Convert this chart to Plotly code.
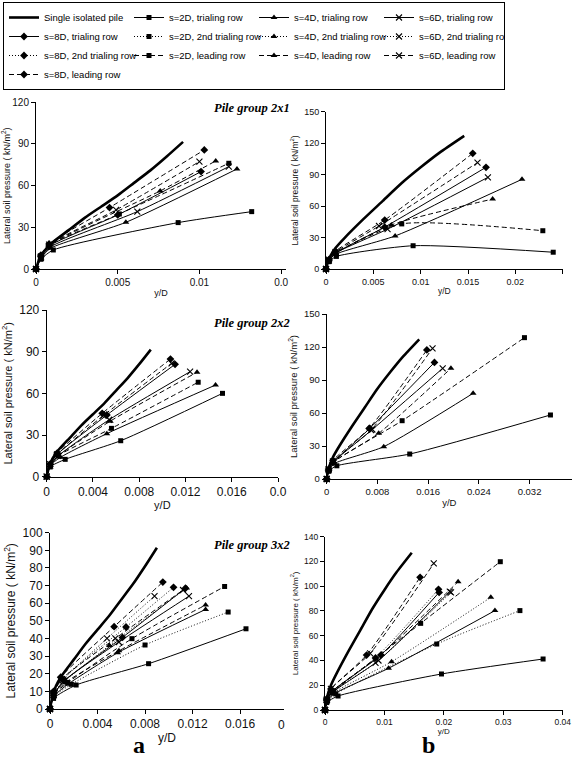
import plotly.graph_objects as go

W, H = 572, 763

# ---------------- data ----------------
SINGLE_A_X = [0, 0.0002, 0.0005, 0.001, 0.002, 0.003, 0.004, 0.005, 0.006, 0.007, 0.008, 0.009]
SINGLE_A_Y = [0, 7, 13, 19, 28, 37, 45, 53, 62, 71, 81, 91.5]
SINGLE_B_X = [0, 0.0002, 0.0005, 0.001, 0.002, 0.004, 0.006, 0.008, 0.010, 0.012, 0.0146]
SINGLE_B_Y = [0, 7, 13, 20, 30, 48, 65, 82, 97, 111, 127]

# Pile group 2x1, column a
A1_2D_T = ([0, 0.0003, 0.00106, 0.0087, 0.0132], [0, 7, 13.7, 33.4, 41.3])
A1_4D_T = ([0, 0.0003, 0.0009, 0.0055, 0.0123], [0, 8, 15, 33.6, 72])
A1_6D_T = ([0, 0.0003, 0.0009, 0.0062, 0.0118], [0, 8, 16, 41.3, 73.7])
A1_8D_T = ([0, 0.0003, 0.0008, 0.0050, 0.0101], [0, 9, 16.5, 38.9, 70.1])
A1_2D_L = ([0, 0.0003, 0.0008, 0.0051, 0.0118], [0, 9, 17, 39.6, 76.1])
A1_4D_L = ([0, 0.0003, 0.0008, 0.0076, 0.0110], [0, 9, 17, 56.2, 77.8])
A1_6D_L = ([0, 0.0003, 0.0008, 0.0049, 0.0100], [0, 9, 17.5, 42.5, 77.3])
A1_8D_L = ([0, 0.0003, 0.0008, 0.0045, 0.0103], [0, 10, 18, 44.2, 85.7])

# Pile group 2x1, column b
B1_2D_T = ([0, 0.0003, 0.0011, 0.0092, 0.0240], [0, 7, 12, 22.2, 16])
B1_4D_T = ([0, 0.0003, 0.0010, 0.0073, 0.0207], [0, 8, 14, 31.5, 85.5])
B1_6D_T = ([0, 0.0003, 0.0010, 0.0065, 0.0171], [0, 8, 15, 38, 87.4])
B1_8D_T = ([0, 0.0003, 0.0010, 0.0062, 0.0169], [0, 8, 15, 40, 97])
B1_2D_L = ([0, 0.0003, 0.0010, 0.0080, 0.0229], [0, 8, 15, 43, 36.5])
B1_4D_L = ([0, 0.0003, 0.0010, 0.0069, 0.0176], [0, 8, 15, 42, 66.7])
B1_6D_L = ([0, 0.0003, 0.0010, 0.0056, 0.0160], [0, 9, 16, 41, 101.4])
B1_8D_L = ([0, 0.0003, 0.0010, 0.0062, 0.0155], [0, 9, 17, 46.7, 110.3])

# Pile group 2x2, column a
A2_2D_T = ([0, 0.0003, 0.0016, 0.0064, 0.0152], [0, 7, 12.5, 25.9, 60])
A2_4D_T = ([0, 0.0003, 0.0012, 0.0052, 0.0146], [0, 8, 14, 31, 66])
A2_6D_T = ([0, 0.0003, 0.0010, 0.0054, 0.0124], [0, 8, 15, 41, 75.6])
A2_8D_T = ([0, 0.0003, 0.0009, 0.0052, 0.0111], [0, 9, 16, 44.4, 80.9])
A2_2D_L = ([0, 0.0003, 0.0010, 0.0056, 0.0131], [0, 8, 15, 34.8, 68])
A2_4D_L = ([0, 0.0003, 0.0010, 0.0055, 0.0130], [0, 8, 15, 40, 75.2])
A2_6D_L = ([0, 0.0003, 0.0009, 0.0049, 0.0108], [0, 9, 16, 44, 81.6])
A2_8D_L = ([0, 0.0003, 0.0009, 0.0048, 0.0107], [0, 9, 17, 45.6, 84.7])

# Pile group 2x2, column b
B2_2D_T = ([0, 0.0003, 0.0016, 0.0131, 0.0353], [0, 7, 12, 22.7, 58.2])
B2_4D_T = ([0, 0.0003, 0.0012, 0.0090, 0.0231], [0, 8, 14, 29.4, 77.9])
B2_6D_T = ([0, 0.0003, 0.0010, 0.0072, 0.0183], [0, 8, 15, 45, 100.6])
B2_8D_T = ([0, 0.0003, 0.0010, 0.0068, 0.0170], [0, 8, 15, 46, 106])
B2_2D_L = ([0, 0.0003, 0.0010, 0.0119, 0.0312], [0, 8, 15, 53, 128.5])
B2_4D_L = ([0, 0.0003, 0.0010, 0.0082, 0.0196], [0, 8, 15, 41.5, 100.6])
B2_6D_L = ([0, 0.0003, 0.0010, 0.0070, 0.0167], [0, 9, 16, 44.5, 118.8])
B2_8D_L = ([0, 0.0003, 0.0010, 0.0067, 0.0158], [0, 9, 17, 46, 117.3])

# Pile group 3x2, column a
A3_2D_T = ([0, 0.0003, 0.0022, 0.0083, 0.0165], [0, 6, 13.6, 25.7, 45.5])
A3_4D_T = ([0, 0.0003, 0.0015, 0.0057, 0.0131], [0, 7, 14, 31.9, 56.5])
A3_6D_T = ([0, 0.0003, 0.0012, 0.0058, 0.0117], [0, 8, 16, 38, 64])
A3_8D_T = ([0, 0.0003, 0.0012, 0.0061, 0.0114], [0, 8, 16, 40.6, 68.5])
A3_2D_2 = ([0, 0.0003, 0.0018, 0.0080, 0.0150], [0, 7, 14, 36.3, 55])
A3_4D_2 = ([0, 0.0003, 0.0013, 0.0050, 0.0115], [0, 8, 16, 36, 68.6])
A3_6D_2 = ([0, 0.0003, 0.0011, 0.0048, 0.0088], [0, 8, 16.5, 40, 64])
A3_8D_2 = ([0, 0.0003, 0.0010, 0.0064, 0.0104], [0, 9, 17, 46.5, 69])
A3_2D_L = ([0, 0.0003, 0.0015, 0.0069, 0.0147], [0, 8, 15, 39.9, 69.5])
A3_4D_L = ([0, 0.0003, 0.0013, 0.0058, 0.0131], [0, 8, 15, 33, 59])
A3_6D_L = ([0, 0.0003, 0.0010, 0.0055, 0.0112], [0, 9, 17, 40, 67.5])
A3_8D_L = ([0, 0.0003, 0.0009, 0.0054, 0.0095], [0, 10, 18, 46.7, 72])

# Pile group 3x2, column b
B3_2D_T = ([0, 0.0003, 0.0022, 0.0196, 0.0367], [0, 6, 11.3, 29.1, 41.2])
B3_4D_T = ([0, 0.0003, 0.0015, 0.0107, 0.0286], [0, 7, 13, 33.7, 80.3])
B3_6D_T = ([0, 0.0003, 0.0012, 0.0090, 0.0210], [0, 8, 14, 40, 95.6])
B3_8D_T = ([0, 0.0003, 0.0012, 0.0094, 0.0192], [0, 8, 15, 44.4, 95])
B3_2D_2 = ([0, 0.0003, 0.0018, 0.0188, 0.0328], [0, 7, 13, 53.3, 80.3])
B3_4D_2 = ([0, 0.0003, 0.0015, 0.0112, 0.0279], [0, 7, 14, 39, 91])
B3_6D_2 = ([0, 0.0003, 0.0012, 0.0085, 0.0212], [0, 8, 15, 38, 95])
B3_8D_2 = ([0, 0.0003, 0.0012, 0.0085, 0.0191], [0, 8, 15, 42, 97.5])
B3_2D_L = ([0, 0.0003, 0.0015, 0.0161, 0.0295], [0, 8, 15, 70, 119.8])
B3_4D_L = ([0, 0.0003, 0.0012, 0.0095, 0.0224], [0, 8, 15, 45, 103.6])
B3_6D_L = ([0, 0.0003, 0.0010, 0.0076, 0.0183], [0, 9, 17, 45.8, 118.4])
B3_8D_L = ([0, 0.0003, 0.0010, 0.0070, 0.0160], [0, 9, 17, 44.4, 107.2])

SPACINGS = ["2D", "4D", "6D", "8D"]
ROWS = ["T", "2", "L"]
ROW_NAMES = {"T": "trialing row", "2": "2nd trialing row", "L": "leading row"}
PANEL_TITLES = ["Pile group 2x1", "Pile group 2x2", "Pile group 3x2"]

# ---------------- styles ----------------
MARKERS = {"2D": ("square", 5), "4D": ("triangle-up", 6), "6D": ("x-thin", 6), "8D": ("diamond", 6)}
DASHES = {"T": "solid", "2": "1px,2px", "L": "5px,3px"}
FONT = "Arial, Liberation Sans, sans-serif"
SERIF = "Times New Roman, Liberation Serif, serif"


def pairs(*items):
    return dict(items)


panels = [
    dict(series=pairs(("2D_T", A1_2D_T), ("4D_T", A1_4D_T), ("6D_T", A1_6D_T), ("8D_T", A1_8D_T),
                      ("2D_L", A1_2D_L), ("4D_L", A1_4D_L), ("6D_L", A1_6D_L), ("8D_L", A1_8D_L)),
         single=(SINGLE_A_X, SINGLE_A_Y), xd=(36, 286), yd=(102.3, 269), xr=[0, 0.0153], yr=[0, 120],
         xt=[0, 0.005, 0.01, 0.015], xtt=["0", "0.005", "0.01", "0.0"], ydt=30, tf=10, ttf=9),
    dict(series=pairs(("2D_T", B1_2D_T), ("4D_T", B1_4D_T), ("6D_T", B1_6D_T), ("8D_T", B1_8D_T),
                      ("2D_L", B1_2D_L), ("4D_L", B1_4D_L), ("6D_L", B1_6D_L), ("8D_L", B1_8D_L)),
         single=(SINGLE_B_X, SINGLE_B_Y), xd=(326, 562.7), yd=(111.7, 269), xr=[0, 0.025], yr=[0, 150],
         xt=[0, 0.005, 0.01, 0.015, 0.02, 0.025], xtt=["0", "0.005", "0.01", "0.015", "0.02", "0.025"],
         ydt=30, tf=9, ttf=8.5),
    dict(series=pairs(("2D_T", A2_2D_T), ("4D_T", A2_4D_T), ("6D_T", A2_6D_T), ("8D_T", A2_8D_T),
                      ("2D_L", A2_2D_L), ("4D_L", A2_4D_L), ("6D_L", A2_6D_L), ("8D_L", A2_8D_L)),
         single=(SINGLE_A_X, SINGLE_A_Y), xd=(46.7, 278), yd=(310, 476.7), xr=[0, 0.02], yr=[0, 120],
         xt=[0, 0.004, 0.008, 0.012, 0.016, 0.02], xtt=["0", "0.004", "0.008", "0.012", "0.016", "0.0"],
         ydt=30, tf=12, ttf=11),
    dict(series=pairs(("2D_T", B2_2D_T), ("4D_T", B2_4D_T), ("6D_T", B2_6D_T), ("8D_T", B2_8D_T),
                      ("2D_L", B2_2D_L), ("4D_L", B2_4D_L), ("6D_L", B2_6D_L), ("8D_L", B2_8D_L)),
         single=(SINGLE_B_X, SINGLE_B_Y), xd=(326.7, 572), yd=(314, 479), xr=[0, 0.0387], yr=[0, 150],
         xt=[0, 0.008, 0.016, 0.024, 0.032], xtt=["0", "0.008", "0.016", "0.024", "0.032"],
         ydt=30, tf=9.5, ttf=9.5),
    dict(series=pairs(("2D_T", A3_2D_T), ("4D_T", A3_4D_T), ("6D_T", A3_6D_T), ("8D_T", A3_8D_T),
                      ("2D_2", A3_2D_2), ("4D_2", A3_4D_2), ("6D_2", A3_6D_2), ("8D_2", A3_8D_2),
                      ("2D_L", A3_2D_L), ("4D_L", A3_4D_L), ("6D_L", A3_6D_L), ("8D_L", A3_8D_L)),
         single=(SINGLE_A_X, SINGLE_A_Y), xd=(50, 284), yd=(532.7, 709), xr=[0, 0.0197], yr=[0, 100],
         xt=[0, 0.004, 0.008, 0.012, 0.016], xtt=["0", "0.004", "0.008", "0.012", "0.016"],
         ydt=10, tf=12, ttf=12),
    dict(series=pairs(("2D_T", B3_2D_T), ("4D_T", B3_4D_T), ("6D_T", B3_6D_T), ("8D_T", B3_8D_T),
                      ("2D_2", B3_2D_2), ("4D_2", B3_4D_2), ("6D_2", B3_6D_2), ("8D_2", B3_8D_2),
                      ("2D_L", B3_2D_L), ("4D_L", B3_4D_L), ("6D_L", B3_6D_L), ("8D_L", B3_8D_L)),
         single=(SINGLE_B_X, SINGLE_B_Y), xd=(325, 562.7), yd=(536.7, 710), xr=[0, 0.04], yr=[0, 140],
         xt=[0, 0.01, 0.02, 0.03, 0.04], xtt=["0", "0.01", "0.02", "0.03", "0.04"],
         ydt=20, tf=8.5, ttf=8),
]

fig = go.Figure()
shown = set()


def rank(key):
    if key == "single":
        return 1
    sp, row = key.split("_")
    return 2 + ROWS.index(row) * 4 + SPACINGS.index(sp)


for i, p in enumerate(panels):
    n = "" if i == 0 else str(i + 1)
    xa, ya = "x" + n, "y" + n
    sx, sy = p["single"]
    fig.add_trace(go.Scatter(
        x=sx, y=sy, xaxis=xa, yaxis=ya, mode="lines", name="Single isolated pile",
        line=dict(color="black", width=2.6, shape="spline", smoothing=0.6),
        legendgroup="single", showlegend="single" not in shown, legendrank=rank("single"),
        cliponaxis=False, hoverinfo="skip"))
    shown.add("single")
    for key, (xs, ys) in p["series"].items():
        sp, row = key.split("_")
        sym, size = MARKERS[sp]
        if sym == "x-thin":
            mk = dict(symbol=sym, size=size, color="black", line=dict(width=1.1, color="black"))
        else:
            mk = dict(symbol=sym, size=size, color="black", line=dict(width=0))
        fig.add_trace(go.Scatter(
            x=xs, y=ys, xaxis=xa, yaxis=ya, mode="lines+markers",
            name="s=%s, %s" % (sp, ROW_NAMES[row]),
            line=dict(color="black", width=1, dash=DASHES[row], shape="spline", smoothing=0.6),
            marker=mk, legendgroup=key, showlegend=key not in shown, legendrank=rank(key),
            cliponaxis=False, hoverinfo="skip"))
        shown.add(key)

    axfont = dict(family=FONT, size=p["tf"], color="#111")
    fig.layout["xaxis" + n] = dict(
        domain=[p["xd"][0] / W, p["xd"][1] / W], anchor=ya, range=p["xr"], automargin=False,
        tickvals=p["xt"], ticktext=p["xtt"], ticks="outside", ticklen=4, tickcolor="black",
        showline=True, linecolor="black", linewidth=1, showgrid=False, zeroline=False,
        tickfont=axfont, title=dict(text="y/D", font=dict(family=FONT, size=p["ttf"], color="#111"), standoff=2))
    fig.layout["yaxis" + n] = dict(
        domain=[1 - p["yd"][1] / H, 1 - p["yd"][0] / H], anchor=xa, range=p["yr"], dtick=p["ydt"],
        automargin=False, ticks="outside", ticklen=4, tickcolor="black",
        showline=True, linecolor="black", linewidth=1, showgrid=False, zeroline=False,
        tickfont=axfont,
        title=dict(text="Lateral soil pressure ( kN/m<sup>2</sup>)",
                   font=dict(family=FONT, size=p["ttf"], color="#111"), standoff=4))

annotations = []
for t, y in zip(PANEL_TITLES, [108, 323, 545]):
    annotations.append(dict(text="<b><i>%s</i></b>" % t, x=292 / W, y=1 - y / H, xref="paper", yref="paper",
                            xanchor="right", yanchor="middle", showarrow=False,
                            font=dict(family=SERIF, size=12.5, color="black")))
annotations.append(dict(text="0", x=281 / W, y=1 - 725 / H, xref="paper", yref="paper", showarrow=False,
                        xanchor="center", yanchor="middle", font=dict(family=FONT, size=12, color="#111")))
for t, x in [("a", 139), ("b", 428)]:
    annotations.append(dict(text="<b>%s</b>" % t, x=x / W, y=1 - 745 / H, xref="paper", yref="paper",
                            xanchor="center", yanchor="middle", showarrow=False,
                            font=dict(family=SERIF, size=24, color="black")))

fig.update_layout(
    width=W, height=H, margin=dict(l=0, r=0, t=0, b=0, autoexpand=False),
    paper_bgcolor="white", plot_bgcolor="white",
    annotations=annotations,
    legend=dict(orientation="h", x=3 / W, y=1 - 2 / H, xanchor="left", yanchor="top",
                bordercolor="black", borderwidth=1, bgcolor="white",
                font=dict(family=FONT, size=9.5, color="black"),
                entrywidth=80, entrywidthmode="pixels", tracegroupgap=0, traceorder="normal"),
)

fig.write_html(
    "out.html",
    config={"displayModeBar": False},
    post_script="document.documentElement.style.margin='0';document.body.style.margin='0';"
                "document.body.style.overflow='hidden';",
)
